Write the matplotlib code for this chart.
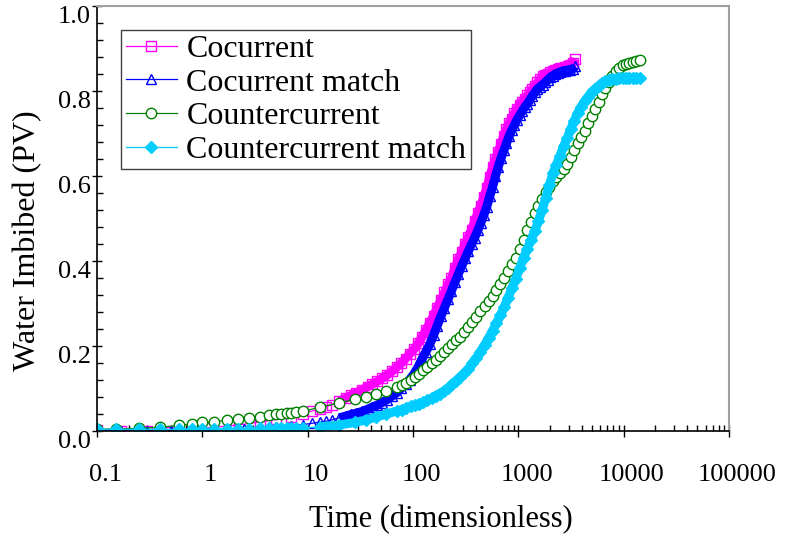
import numpy as np
import matplotlib
matplotlib.use('Agg')
import matplotlib.pyplot as plt
import matplotlib.transforms as mtrans
from matplotlib.ticker import LogLocator, FuncFormatter, MultipleLocator, NullFormatter

# time grid for the cocurrent runs (dimensionless)
t_co = [0.1, 0.17, 0.3, 0.5, 0.8, 1.2, 1.8, 2.5, 3.5, 5, 7, 9, 11, 13, 15, 17, 20, 23,
        26, 29, 33, 37, 41, 46, 51, 57, 63, 70, 77, 85, 93, 102, 112, 122, 133, 145,
        157, 170, 184, 199, 215, 232, 250, 270, 290, 312, 335, 360, 385, 412, 440,
        470, 502, 535, 570, 607, 645, 685, 727, 771, 818, 867, 918, 972, 1030, 1090,
        1150, 1220, 1290, 1360, 1440, 1520, 1610, 1700, 1800, 1900, 2010, 2120, 2240,
        2370, 2500, 2640, 2790, 2950, 3120, 3300, 3450]

cocurrent = [0.003, 0.0, 0.0, -0.003, 0.004, 0.008, 0.012, 0.016, 0.021, 0.027, 0.034,
             0.041, 0.047, 0.052, 0.057, 0.062, 0.07, 0.077, 0.084, 0.09, 0.097, 0.104,
             0.11, 0.117, 0.124, 0.132, 0.14, 0.15, 0.159, 0.17, 0.181, 0.192, 0.206,
             0.221, 0.237, 0.255, 0.271, 0.29, 0.308, 0.326, 0.345, 0.36, 0.383, 0.405,
             0.42, 0.44, 0.457, 0.474, 0.493, 0.512, 0.53, 0.55, 0.572, 0.598, 0.62,
             0.64, 0.657, 0.675, 0.694, 0.71, 0.724, 0.735, 0.748, 0.758, 0.768, 0.775,
             0.782, 0.79, 0.797, 0.805, 0.812, 0.82, 0.828, 0.835, 0.838, 0.841, 0.844,
             0.847, 0.849, 0.851, 0.853, 0.855, 0.856, 0.858, 0.86, 0.866, 0.876]

cocurrent_match = [0.0, 0.0, 0.0, 0.0, 0.002, 0.003, 0.004, 0.005, 0.007, 0.009, 0.012,
                   0.015, 0.018, 0.021, 0.023, 0.026, 0.031, 0.035, 0.039, 0.042, 0.046,
                   0.051, 0.056, 0.061, 0.067, 0.074, 0.082, 0.09, 0.1, 0.11, 0.121,
                   0.134, 0.151, 0.17, 0.187, 0.205, 0.226, 0.248, 0.27, 0.29, 0.31,
                   0.33, 0.35, 0.37, 0.388, 0.406, 0.423, 0.44, 0.455, 0.472, 0.49,
                   0.508, 0.528, 0.552, 0.575, 0.6, 0.622, 0.642, 0.66, 0.677, 0.694,
                   0.708, 0.72, 0.732, 0.743, 0.753, 0.762, 0.77, 0.779, 0.789, 0.797,
                   0.805, 0.81, 0.815, 0.82, 0.826, 0.832, 0.836, 0.84, 0.842, 0.845,
                   0.847, 0.848, 0.849, 0.85, 0.852, 0.858]

# time grid for the countercurrent runs
t_cc = [0.1, 0.15, 0.25, 0.4, 0.6, 0.8, 1.0, 1.3, 1.7, 2.2, 2.8, 3.5, 4.3, 5, 5.6, 6.3,
        7, 7.8, 9, 13, 20, 28, 36, 45, 56, 70, 78, 86, 95, 104, 114, 125, 137, 150, 164,
        179, 196, 214, 234, 256, 280, 306, 335, 366, 400, 437, 478, 522, 570, 620, 675,
        735, 800, 870, 945, 1030, 1120, 1215, 1320, 1430, 1550, 1680, 1820, 1970, 2130,
        2300, 2490, 2690, 2910, 3140, 3390, 3660, 3950, 4260, 4600, 4960, 5350, 5770,
        6220, 6710, 7240, 7800, 8400, 9050, 9750, 10500, 11300, 12200, 13200, 14400]

countercurrent = [0.004, 0.005, 0.006, 0.009, 0.013, 0.017, 0.02, 0.022, 0.025, 0.028,
                  0.031, 0.034, 0.037, 0.039, 0.041, 0.042, 0.043, 0.044, 0.046, 0.056,
                  0.066, 0.075, 0.081, 0.087, 0.095, 0.104, 0.109, 0.114, 0.12, 0.127,
                  0.135, 0.143, 0.151, 0.159, 0.167, 0.176, 0.187, 0.196, 0.205, 0.213,
                  0.222, 0.234, 0.245, 0.257, 0.269, 0.282, 0.294, 0.305, 0.318, 0.331,
                  0.346, 0.361, 0.377, 0.392, 0.408, 0.428, 0.45, 0.472, 0.492, 0.512,
                  0.529, 0.545, 0.562, 0.575, 0.588, 0.598, 0.607, 0.616, 0.629, 0.644,
                  0.66, 0.677, 0.692, 0.707, 0.724, 0.741, 0.757, 0.774, 0.793, 0.807,
                  0.821, 0.835, 0.846, 0.854, 0.86, 0.864, 0.866, 0.868, 0.87, 0.872]

countercurrent_match = [0.004, 0.004, 0.004, 0.004, 0.004, 0.004, 0.005, 0.005, 0.005,
                        0.005, 0.005, 0.006, 0.006, 0.006, 0.006, 0.006, 0.007, 0.007,
                        0.007, 0.01, 0.014, 0.02, 0.026, 0.033, 0.04, 0.047, 0.05, 0.054,
                        0.058, 0.061, 0.064, 0.068, 0.072, 0.077, 0.083, 0.088, 0.094,
                        0.101, 0.11, 0.118, 0.127, 0.136, 0.146, 0.159, 0.172, 0.187,
                        0.202, 0.219, 0.236, 0.254, 0.272, 0.292, 0.314, 0.336, 0.358,
                        0.383, 0.408, 0.428, 0.45, 0.47, 0.494, 0.52, 0.548, 0.578, 0.607,
                        0.627, 0.648, 0.67, 0.689, 0.71, 0.73, 0.748, 0.763, 0.776, 0.787,
                        0.798, 0.805, 0.812, 0.819, 0.824, 0.826, 0.828, 0.829, 0.83,
                        0.83, 0.83, 0.83, 0.83, 0.83, 0.83]

x_ticks = [0.1, 1, 10, 100, 1000, 10000, 100000]

plt.rcParams['font.family'] = ['Liberation Serif', 'DejaVu Serif']

fig = plt.figure(figsize=(7.93, 5.4), dpi=100)
ax = fig.add_axes([0.1223, 0.2019, 0.797, 0.787])

c_co, c_com, c_cc, c_ccm = '#ff00ff', '#0000ff', '#008000', '#00ccff'
ms = 7.5
band = 6.5

# dense part of the records: overlapping markers read as a solid band
ax.plot(t_co[16:], cocurrent[16:], color=c_co, lw=band, solid_capstyle='butt')
ax.plot(t_co, cocurrent, color=c_co, lw=0.9, marker='s', ms=ms,
        mfc='none', mew=1.0, label='Cocurrent')
ax.plot(t_co[16:], cocurrent_match[16:], color=c_com, lw=band, solid_capstyle='butt')
ax.plot(t_co, cocurrent_match, color=c_com, lw=0.9, marker='^', ms=ms,
        mfc='none', mew=1.0, label='Cocurrent match')
ax.plot(t_cc, countercurrent, color=c_cc, lw=0.9, marker='o', ms=ms,
        mfc='white', mew=1.0, label='Countercurrent')
ax.plot(t_cc[19:], countercurrent_match[19:], color=c_ccm, lw=band, solid_capstyle='butt')
ax.plot(t_cc, countercurrent_match, color=c_ccm, lw=0.9, marker='D', ms=ms - 1,
        mfc=c_ccm, mew=1.0, label='Countercurrent match')

ax.set_xscale('log')
ax.set_xlim(0.1, 100000)
ax.set_ylim(0, 1.0)

ax.set_xticks(x_ticks)
ax.xaxis.set_minor_locator(LogLocator(base=10, subs=np.arange(2, 10), numticks=20))
ax.xaxis.set_major_formatter(FuncFormatter(lambda v, p: f'{v:.10g}'))
ax.xaxis.set_minor_formatter(NullFormatter())
ax.yaxis.set_major_locator(MultipleLocator(0.2))
ax.yaxis.set_minor_locator(MultipleLocator(0.04))
ax.yaxis.set_major_formatter(FuncFormatter(lambda v, p: f'{v:.1f}'))

ax.tick_params(axis='x', which='major', direction='inout', length=9, width=1,
               labelsize=19, pad=19)
ax.tick_params(axis='x', which='minor', direction='in', length=4.5, width=1)
ax.tick_params(axis='y', which='major', direction='inout', length=7, width=1,
               labelsize=19, pad=1)
ax.tick_params(axis='y', which='minor', direction='in', length=4, width=1)

# labels sit a little right of / below their ticks in the original
shift_x = mtrans.ScaledTranslation(6 / 72, 0, fig.dpi_scale_trans)
for lab in ax.get_xticklabels():
    lab.set_transform(lab.get_transform() + shift_x)
for lab in ax.get_yticklabels():
    lab.set_verticalalignment('top')

for s in ['top', 'right']:
    ax.spines[s].set_color('#a0a0a0')
    ax.spines[s].set_linewidth(1.5)
for s in ['left', 'bottom']:
    ax.spines[s].set_color('black')
    ax.spines[s].set_linewidth(1.2)

ax.set_xlabel('Time (dimensionless)', fontsize=22)
ax.set_ylabel('Water Imbibed (PV)', fontsize=23)
ax.xaxis.set_label_coords(0.544, -0.175)
ax.yaxis.set_label_coords(-0.087, 0.447)

leg = ax.legend(loc='upper left', bbox_to_anchor=(121 / 793, 1 - 30 / 540),
                bbox_transform=fig.transFigure, borderaxespad=0, fontsize=23,
                fancybox=False, edgecolor='#404040', framealpha=1,
                handlelength=1.6, handletextpad=0.3, labelspacing=0.13,
                borderpad=0.15, markerscale=1.0)
leg.get_frame().set_linewidth(1.0)

fig.savefig('out.png', dpi=100)
